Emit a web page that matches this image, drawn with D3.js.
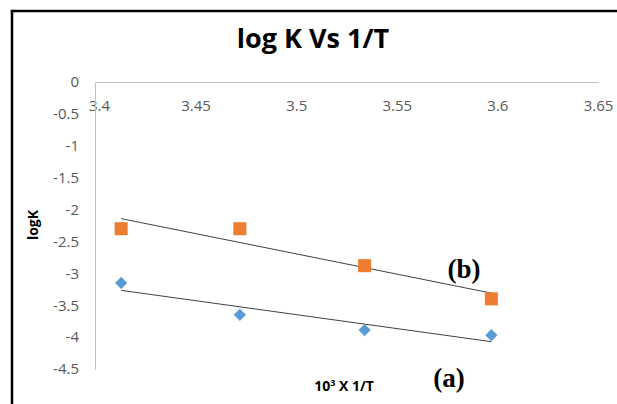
<!DOCTYPE html>
<html><head><meta charset="utf-8">
<script src="https://cdn.jsdelivr.net/npm/d3@7"></script>
<style>body{margin:0;background:#fff}svg{display:block}</style>
</head><body>
<svg id="c" width="617" height="404"></svg>
<script>
const xValues = [3.413, 3.472, 3.534, 3.597];
const seriesA = [-3.15, -3.65, -3.89, -3.97]; // blue diamonds (a)
const seriesB = [-2.30, -2.30, -2.88, -3.40]; // orange squares (b)
const xTicks = [3.4, 3.45, 3.5, 3.55, 3.6, 3.65];
const yTicks = [0, -0.5, -1, -1.5, -2, -2.5, -3, -3.5, -4, -4.5];

const svg = d3.select("#c");
const x = d3.scaleLinear().domain([3.4, 3.65]).range([95, 598]);
const y = d3.scaleLinear().domain([0, -4.5]).range([82, 369]);

// frame
svg.append("line").attr("x1",12).attr("x2",12).attr("y1",10).attr("y2",404).attr("stroke","#000").attr("stroke-width",2.5);
svg.append("line").attr("x1",10.75).attr("x2",617).attr("y1",11).attr("y2",11).attr("stroke","#000").attr("stroke-width",2.5);

// title
svg.append("text").attr("x",313).attr("y",48).attr("text-anchor","middle")
  .attr("font-family","Open Sans, sans-serif").attr("font-weight","bold").attr("font-size",27)
  .attr("fill","#000").text("log K Vs 1/T");

// x axis at y=0
const xAxis = d3.axisTop(x).tickValues(xTicks).tickSize(0).tickFormat(d3.format(""));
const gx = svg.append("g").attr("transform",`translate(0,${y(0)})`).call(xAxis);
gx.select(".domain").attr("stroke","#bfbfbf");
gx.selectAll("text").attr("transform","translate(0,32)").attr("fill","#595959")
  .attr("font-family","Open Sans, sans-serif").attr("font-size",15);
gx.selectAll(".tick").filter(d=>d===3.4).select("text").attr("dx",4);

// y axis
const yAxis = d3.axisLeft(y).tickValues(yTicks).tickSize(0).tickPadding(16).tickFormat(d=>String(d));
const gy = svg.append("g").attr("transform",`translate(${x(3.4)},0)`).call(yAxis);
gy.select(".domain").attr("stroke","#bfbfbf");
gy.selectAll("text").attr("fill","#595959").attr("font-family","Open Sans, sans-serif").attr("font-size",15);

// axis titles
svg.append("text").attr("transform","translate(38,225) rotate(-90)").attr("text-anchor","middle")
  .attr("font-family","Open Sans, sans-serif").attr("font-weight","bold").attr("font-size",14).attr("fill","#000").text("logK");
const xt = svg.append("text").attr("x",344).attr("y",391).attr("text-anchor","middle")
  .attr("font-family","Open Sans, sans-serif").attr("font-weight","bold").attr("font-size",14).attr("fill","#000");
xt.append("tspan").text("10");
xt.append("tspan").attr("font-size",9).attr("dy",-5).text("3");
xt.append("tspan").attr("dy",5).text(" X 1/T");

// trendlines (least squares)
function fit(xs, ys){
  const mx=d3.mean(xs), my=d3.mean(ys);
  const s=d3.sum(xs,(v,i)=>(v-mx)*(ys[i]-my))/d3.sum(xs,v=>(v-mx)*(v-mx));
  return v=>my+s*(v-mx);
}
[seriesA, seriesB].forEach(ser=>{
  const f=fit(xValues, ser);
  const x0=d3.min(xValues), x1=d3.max(xValues);
  svg.append("line").attr("x1",x(x0)).attr("y1",y(f(x0))).attr("x2",x(x1)).attr("y2",y(f(x1)))
    .attr("stroke","#404040").attr("stroke-width",1);
});

// markers
svg.append("g").selectAll("path").data(xValues.map((v,i)=>[v,seriesA[i]])).join("path")
  .attr("d", d3.symbol(d3.symbolDiamond2, 95))
  .attr("transform",d=>`translate(${x(d[0])},${y(d[1])})`)
  .attr("fill","#5B9BD5");
svg.append("g").selectAll("rect").data(xValues.map((v,i)=>[v,seriesB[i]])).join("rect")
  .attr("x",d=>x(d[0])-6.5).attr("y",d=>y(d[1])-6.5).attr("width",13).attr("height",13)
  .attr("fill","#ED7D31");

// labels (a), (b)
svg.append("text").attr("x",464).attr("y",278).attr("text-anchor","middle")
  .attr("font-family","Liberation Serif, serif").attr("font-weight","bold").attr("font-size",27).text("(b)");
svg.append("text").attr("x",449).attr("y",387).attr("text-anchor","middle")
  .attr("font-family","Liberation Serif, serif").attr("font-weight","bold").attr("font-size",27).text("(a)");
</script>
</body></html>
